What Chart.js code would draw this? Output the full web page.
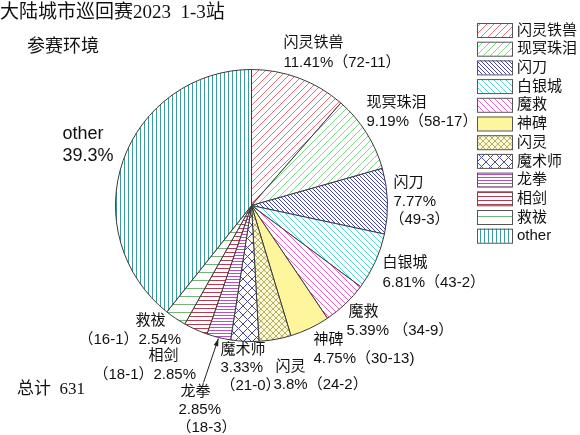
<!DOCTYPE html>
<html>
<head>
<meta charset="utf-8">
<script src="https://cdn.jsdelivr.net/npm/chart.js@4.4.0/dist/chart.umd.min.js"></script>
<style>
  body { margin: 0; background: #fff; }
  #wrap { width: 580px; height: 435px; position: relative; }
</style>
</head>
<body>
<div id="wrap"><canvas id="pie" width="580" height="435"></canvas></div>
<script>
// data (wins - losses per deck)
const decks = ['闪灵铁兽', '现冥珠泪', '闪刀', '白银城', '魔救', '神碑', '闪灵', '魔术师', '龙拳', '相剑', '救祓', 'other'];
const wins = [72, 58, 49, 43, 34, 30, 24, 21, 18, 18, 16, 248];
const losses = [11, 17, 3, 2, 9, 13, 2, 0, 3, 1, 1, null];
const total = wins.reduce((a, b) => a + b, 0);

const titleText = '大陆城市巡回赛2023  1-3站';
const subText = '参赛环境';
const totalText = '总计  ' + total;

const SANS = '"Liberation Sans", "Noto Sans CJK SC", sans-serif';
const SERIF = '"Liberation Serif", "Noto Sans CJK SC", serif';

// hatch tiles
function hatch(kind, color, s, bg) {
    const c = document.createElement('canvas');
    c.width = s; c.height = s;
    const g = c.getContext('2d');
    g.fillStyle = bg || '#fff';
    g.fillRect(0, 0, s, s);
    g.strokeStyle = color;
    g.fillStyle = color;
    g.lineWidth = 1;
    if (kind === '/' || kind === 'x') {
        g.beginPath();
        g.moveTo(0, s); g.lineTo(s, 0);
        g.moveTo(-1, 1); g.lineTo(1, -1);
        g.moveTo(s - 1, s + 1); g.lineTo(s + 1, s - 1);
        g.stroke();
    }
    if (kind === '\\' || kind === 'x') {
        g.beginPath();
        g.moveTo(0, 0); g.lineTo(s, s);
        g.moveTo(s - 1, -1); g.lineTo(s + 1, 1);
        g.moveTo(-1, s - 1); g.lineTo(1, s + 1);
        g.stroke();
    }
    if (kind === '-') g.fillRect(0, 0, s, 1);
    if (kind === '|') g.fillRect(0, 0, 1, s);
    return g.createPattern(c, 'repeat');
}

const fills = [
    hatch('/', '#e8707c', 7),
    hatch('/', '#80d488', 7),
    hatch('\\', '#4646a8', 4),
    hatch('\\', '#58d4d4', 6),
    hatch('\\', '#e860c8', 6),
    '#fff59c',
    hatch('x', '#b8b060', 6, '#fbf8d8'),
    hatch('x', '#4a4aa0', 9),
    hatch('-', '#b454c4', 3),
    hatch('-', '#b43c50', 4),
    hatch('-', '#74b474', 8),
    hatch('|', '#3a9c9c', 4)
];

function pct(i) {
    return String(parseFloat((wins[i] / total * 100).toFixed(2)));
}

// label layout: offsets from the pie centre, one entry per line
const labelLines = [
    [['{n}', 32, -163], ['{p}%（{w}-{l}）', 32, -143]],
    [['{n}', 115, -103], ['{p}%（{w}-{l}）', 115, -84]],
    [['{n}', 142, -23], ['{p}%', 142, -4], ['（{w}-{l}）', 138, 14]],
    [['{n}', 131, 57], ['{p}%（{w}-{l}）', 131, 77]],
    [['{n}', 97, 106], ['{p}% （{w}-{l}）', 95, 125]],
    [['{n}', 62, 134], ['{p}%（{w}-{l})', 62, 153]],
    [['{n}', 24, 161], ['{p}%（{w}-{l}）', 22, 179]],
    [['{n}', -31, 144], ['{p}%', -31, 162], ['（{w}-{l}）', -31, 180]],
    [['{n}', -71, 186], ['{p}%', -73, 204], ['（{w}-{l}）', -75, 222]],
    [['{n}', -103, 150], ['（{w}-{l}）{p}%', -158, 169]],
    [['{n}', -116, 115], ['（{w}-{l}）{p}%', -173, 134]],
    [['{n}', -189, -71], ['{p}%', -189, -49]]
];

function fmt(t, i) {
    return t.replace('{n}', decks[i]).replace('{p}', pct(i))
        .replace('{w}', wins[i]).replace('{l}', losses[i]);
}

const labelPlugin = {
    id: 'labels',
    afterDraw(chart) {
        const ctx = chart.ctx;
        const arcs = chart.getDatasetMeta(0).data;
        const cx = arcs[0].x, cy = arcs[0].y;
        ctx.save();
        ctx.textBaseline = 'middle';
        ctx.textAlign = 'left';
        ctx.fillStyle = '#111';

        labelLines.forEach((lines, i) => {
            ctx.font = (i === 11 ? '18px ' : '15px ') + SANS;
            lines.forEach(([t, dx, dy]) => ctx.fillText(fmt(t, i), cx + dx, cy + dy));
        });

        // arrow to 龙拳 slice
        const a = arcs[8];
        const mid = (a.startAngle + a.endAngle) / 2;
        const tx = cx + Math.cos(mid) * (a.outerRadius + 1);
        const ty = cy + Math.sin(mid) * (a.outerRadius + 1);
        const fx = cx - 48, fy = cy + 177;
        const ang = Math.atan2(ty - fy, tx - fx);
        ctx.strokeStyle = '#222';
        ctx.lineWidth = 1;
        ctx.beginPath();
        ctx.moveTo(fx, fy);
        ctx.lineTo(tx, ty);
        ctx.stroke();
        ctx.beginPath();
        ctx.moveTo(tx, ty);
        ctx.lineTo(tx - 8 * Math.cos(ang - 0.3), ty - 8 * Math.sin(ang - 0.3));
        ctx.lineTo(tx - 8 * Math.cos(ang + 0.3), ty - 8 * Math.sin(ang + 0.3));
        ctx.closePath();
        ctx.fillStyle = '#222';
        ctx.fill();

        // titles
        ctx.fillStyle = '#111';
        ctx.font = '19px ' + SERIF;
        ctx.fillText(titleText, 0, 13);
        ctx.font = '18px ' + SERIF;
        ctx.fillText(subText, 27, 47);
        ctx.font = '17px ' + SERIF;
        ctx.fillText(totalText, 17, 390);

        // legend
        ctx.font = '15px ' + SANS;
        decks.forEach((d, i) => {
            const y = 23 + i * 18.7;
            ctx.fillStyle = fills[i];
            ctx.fillRect(477, y, 35, 14);
            ctx.strokeStyle = '#555';
            ctx.strokeRect(477.5, y + 0.5, 35, 14);
            ctx.fillStyle = '#111';
            ctx.fillText(d, 517, y + 7.5);
        });
        ctx.restore();
    }
};

new Chart(document.getElementById('pie'), {
    type: 'pie',
    data: {
        labels: decks,
        datasets: [{
            data: wins,
            backgroundColor: fills,
            borderColor: '#3a3a3a',
            borderWidth: 1
        }]
    },
    options: {
        responsive: false,
        animation: false,
        layout: { padding: { top: 69, bottom: 93, left: 115, right: 192 } },
        plugins: {
            legend: { display: false },
            tooltip: { enabled: false }
        }
    },
    plugins: [labelPlugin]
});
</script>
</body>
</html>
